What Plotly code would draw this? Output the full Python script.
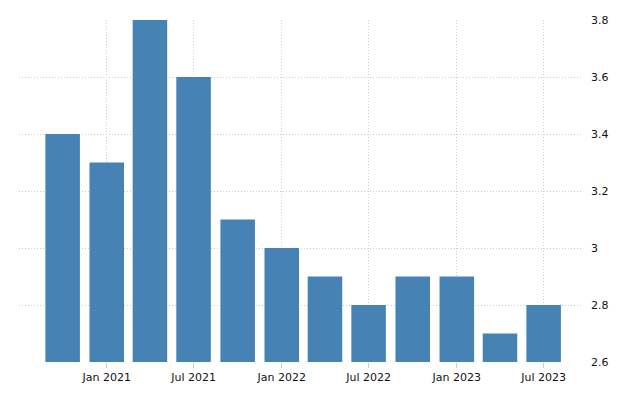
import plotly.graph_objects as go

dates = ["2020-10-01", "2021-01-01", "2021-04-01", "2021-07-01", "2021-10-01", "2022-01-01",
         "2022-04-01", "2022-07-01", "2022-10-01", "2023-01-01", "2023-04-01", "2023-07-01"]
values = [3.4, 3.3, 3.8, 3.6, 3.1, 3.0, 2.9, 2.8, 2.9, 2.9, 2.7, 2.8]
tick_dates = ["2021-01-01", "2021-07-01", "2022-01-01", "2022-07-01", "2023-01-01", "2023-07-01"]
tick_labels = ["Jan 2021", "Jul 2021", "Jan 2022", "Jul 2022", "Jan 2023", "Jul 2023"]
y_ticks = [2.6, 2.8, 3.0, 3.2, 3.4, 3.6, 3.8]
y_labels = ["2.6", "2.8", "3", "3.2", "3.4", "3.6", "3.8"]

fig = go.Figure(go.Bar(x=dates, y=values, marker=dict(color="#4682B4", line=dict(width=0))))

fig.update_layout(
    width=640, height=400,
    margin=dict(l=19, r=58, t=20, b=38),
    plot_bgcolor="white", paper_bgcolor="white",
    bargap=0.2,
    showlegend=False,
    font=dict(family="DejaVu Sans", size=11, color="#111111"),
)
fig.update_xaxes(
    type="date",
    range=["2020-07-02", "2023-09-19"],
    tickvals=tick_dates, ticktext=tick_labels,
    showgrid=True, gridcolor="#cccccc", griddash="1px,2px", gridwidth=1,
    ticks="outside", ticklen=5, tickcolor="#cccccc",
    showline=False, zeroline=False,
)
fig.update_yaxes(
    side="right",
    range=[2.6, 3.8],
    tickvals=y_ticks, ticktext=y_labels,
    showgrid=True, gridcolor="#cccccc", griddash="1px,2px", gridwidth=1,
    ticks="", ticklabelstandoff=8,
    showline=False, zeroline=False,
)

fig.write_html("out.html")
